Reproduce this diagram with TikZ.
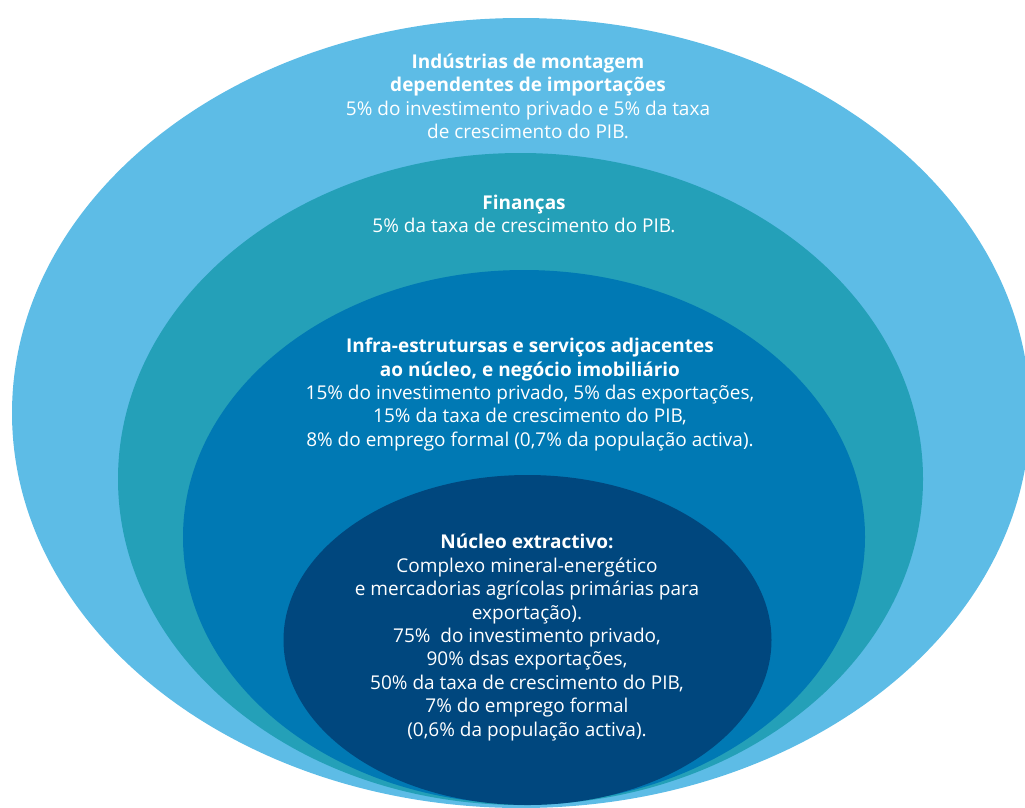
\documentclass[tikz,border=0pt]{standalone}
\usepackage{fontspec}
\setmainfont{Open Sans}
\definecolor{lightblue}{HTML}{5DBCE6}
\definecolor{tealblue}{HTML}{24A0B8}
\definecolor{midblue}{HTML}{0079B4}
\definecolor{navyblue}{HTML}{00477E}
\begin{document}
\begin{tikzpicture}[x=1pt,y=-1pt,
  layer/.style={draw=none},
  lbl/.style={text=white,align=center,font=\fontsize{19}{23.4}\selectfont,inner sep=0pt}]
\useasboundingbox (0,0) rectangle (1025,807);
\begin{scope}
\clip (0,0) rectangle (1025,807);
\fill[lightblue] (521,413) ellipse [x radius=509, y radius=395];
\fill[tealblue] (520.5,479) ellipse [x radius=402.5, y radius=326];
\fill[midblue] (524,537) ellipse [x radius=341, y radius=267];
\fill[navyblue] (527.5,640) ellipse [x radius=244, y radius=165];
\end{scope}
\node[lbl] (t1) at (528,96.5) {\textbf{Indústrias de montagem}\\\textbf{dependentes de importações}\\5\% do investimento privado e 5\% da taxa\\de crescimento do PIB.};
\node[lbl] (t2) at (524,214) {\textbf{Finanças}\\5\% da taxa de crescimento do PIB.};
\node[lbl] (t3) at (530,394.5) {\textbf{Infra-estrutursas e serviços adjacentes}\\\textbf{ao núcleo, e negócio imobiliário}\\15\% do investimento privado, 5\% das exportações,\\15\% da taxa de crescimento do PIB,\\8\% do emprego formal (0,7\% da população activa).};
\node[lbl] (t4) at (527,637.5) {\textbf{Núcleo extractivo:}\\Complexo mineral-energético\\e mercadorias agrícolas primárias para\\exportação).\\75\%\ \ do investimento privado,\\90\% dsas exportações,\\50\% da taxa de crescimento do PIB,\\7\% do emprego formal\\(0,6\% da população activa).};
\end{tikzpicture}
\end{document}
